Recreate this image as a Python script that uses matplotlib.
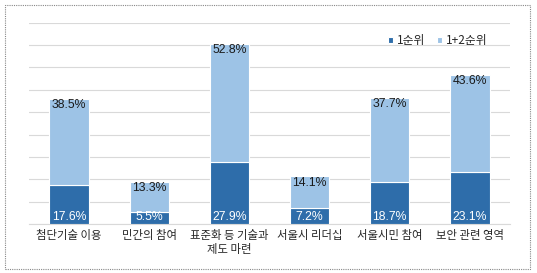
import matplotlib.pyplot as plt
from matplotlib.patches import Rectangle

plt.rcParams['font.family'] = ['Noto Sans CJK KR', 'DejaVu Sans']

categories = ['첨단기술 이용', '민간의 참여', '표준화 등 기술과\n제도 마련', '서울시 리더십', '서울시민 참여', '보안 관련 영역']
rank1 = [17.6, 5.5, 27.9, 7.2, 18.7, 23.1]
rank12 = [38.5, 13.3, 52.8, 14.1, 37.7, 43.6]

dark = '#2E6DAA'
light = '#9DC3E6'

fig = plt.figure(figsize=(5.37, 2.73), dpi=100)
ax = fig.add_axes([29 / 537, 1 - 224 / 273, 481 / 537, (224 - 22.7) / 273])

x = range(len(categories))
w = 0.49
ax.bar(x, rank1, w, color=dark, edgecolor='white', linewidth=0.8, label='1순위', zorder=3)
ax.bar(x, rank12, w, bottom=rank1, color=light, edgecolor='white', linewidth=0.8, label='1+2순위', zorder=3)

for i in x:
    ax.text(i, 3.0, f'{rank1[i]}%', ha='center', va='center', color='white', fontsize=8.8,
            family=['Liberation Sans'], zorder=4)
    ax.text(i, rank1[i] + rank12[i] - 2.8, f'{rank12[i]}%', ha='center', va='center', color='#1a1a1a',
            fontsize=8.8, family=['Liberation Sans'], zorder=4)

ax.set_xlim(-0.5, 5.5)
ax.set_ylim(0, 90)
ax.set_yticks(range(0, 91, 10))
ax.yaxis.grid(True, color='#d9d9d9', linewidth=0.8, zorder=0)
ax.tick_params(axis='y', left=False, labelleft=False)
ax.tick_params(axis='x', length=0, pad=4, labelsize=8.2)
ax.set_xticks(list(x))
ax.set_xticklabels(categories, color='#262626', linespacing=1.4)
for s in ['top', 'right', 'left']:
    ax.spines[s].set_visible(False)
ax.spines['bottom'].set_color('#d9d9d9')

leg = ax.legend(loc='upper right', bbox_to_anchor=(0.975, 0.995), ncol=2, frameon=False, fontsize=8.5,
                handlelength=0.4, handleheight=0.4, handletextpad=0.35, columnspacing=1.0)
for t in leg.get_texts():
    t.set_color('#262626')

fig.patches.append(Rectangle((5 / 537, 4 / 273), 525 / 537, 264 / 273, transform=fig.transFigure,
                             fill=False, edgecolor='#888888', linestyle=(0, (1, 1)), linewidth=0.8))

fig.savefig('out.png', dpi=100)
